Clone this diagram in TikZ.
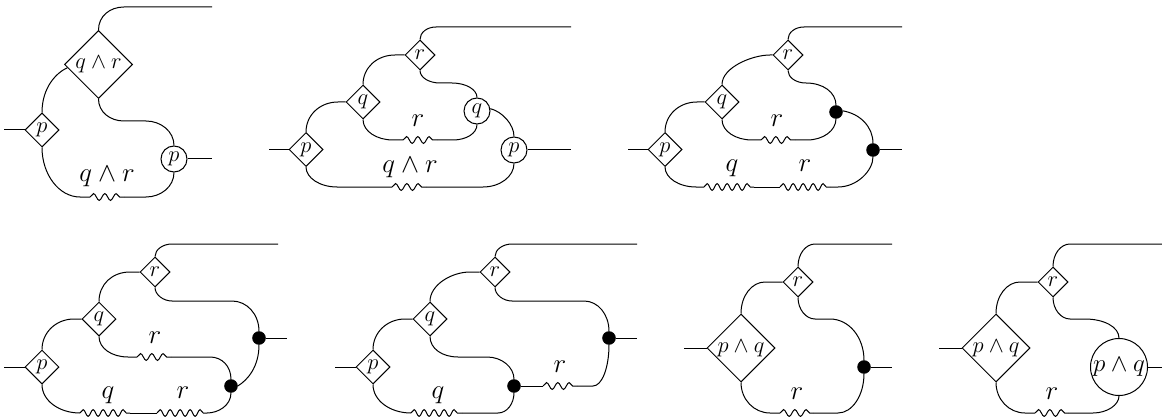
\RequirePackage{fix-cm}
\documentclass[tikz,border=0pt]{standalone}
\usetikzlibrary{shapes.geometric,decorations.pathmorphing}
\tikzset{
  wire/.style={line width=1pt},
  gate/.style={diamond,draw,line width=1pt,inner sep=0pt,minimum width=#1,minimum height=#1,font=\fontsize{22.5}{22.5}\selectfont},
  ring/.style={circle,draw,line width=1pt,inner sep=0pt,minimum size=#1,font=\fontsize{22.5}{22.5}\selectfont},
  blob/.style={circle,fill=black,draw=black,inner sep=0pt,minimum size=12.5pt},
  lab/.style={inner sep=0pt,font=\fontsize{27}{27}\selectfont},
  wavy/.style={line width=1pt,decorate,decoration={snake,segment length=#1,amplitude=3.4pt,pre length=0pt,post length=0pt}},
  wavy/.default=11.3pt
}
\begin{document}
\begin{tikzpicture}[x=1pt,y=-1pt,wire]
\useasboundingbox (0,0) rectangle (1162,417);
\clip (0,0) rectangle (1162,417);

% ---------- diagram 1
\node[gate=68pt] (a1) at (98.5,64.5) {$q\wedge r$};
\node[gate=34pt] (a2) at (42,130) {$p$};
\node[ring=26pt] (a3) at (174,159) {$p$};
\coordinate (a4) at (212,7);
\coordinate (a5) at (4,130);
\coordinate (a6) at (212,159);
\coordinate (a7) at (90,197);
\coordinate (a8) at (124,197);
\node[lab] (a9) at (107,177) {$q\wedge r$};
\draw (a1.north) .. controls +(0,-14) and +(-14,0) .. (124,7) -- (a4);
\draw (a5) -- (a2.west);
\draw (a2.north) .. controls +(0,-25) and +(-11,5) .. (a1.186);
\draw (a1.south) .. controls +(0,13) and +(-14,0) .. (124,121) -- (146,121) .. controls +(15,0) and +(0,-14) .. (a3.north);
\draw (a3.east) -- (a6);
\draw (a2.south) .. controls +(0,27) and +(-21,0) .. (80,197) -- (a7);
\draw (a8) -- (146,197) .. controls +(15,0) and +(0,14) .. (a3.south);
\draw[wavy] (a7) -- (a8);

% ---------- diagram 2
\node[gate=30pt] (b1) at (420,55) {$r$};
\node[gate=34pt] (b2) at (363,102) {$q$};
\node[gate=34pt] (b3) at (306,149.5) {$p$};
\node[ring=26pt] (b4) at (477,111) {$q$};
\node[ring=26pt] (b5) at (514,150) {$p$};
\coordinate (b6) at (571,27);
\coordinate (b7) at (269,149.5);
\coordinate (b8) at (571,150);
\coordinate (b9) at (403,140);
\coordinate (b10) at (437,140);
\coordinate (b11) at (392,187);
\coordinate (b12) at (426,187);
\node[lab] (b13) at (418,121) {$r$};
\node[lab] (b14) at (410,168) {$q\wedge r$};
\draw (b1.north) .. controls +(0,-7) and +(-9,0) .. (436,27) -- (b6);
\draw (b7) -- (b3.west);
\draw (b3.north) .. controls +(0,-17) and +(-18,0) .. (338,102) -- (b2.west);
\draw (b2.north) .. controls +(0,-17) and +(-18,0) .. (395,55) -- (b1.west);
\draw (b1.south) .. controls +(0,7) and +(-11,0) .. (440,83) -- (452,83) .. controls +(14,0) and +(0,-8) .. (b4.north);
\draw (b2.south) .. controls +(0,12) and +(-16,0) .. (393,140) -- (b9);
\draw (b10) -- (453,140) .. controls +(13,0) and +(0,9) .. (b4.south);
\draw (b4.10) .. controls +(12,3) and +(0,-12) .. (b5.north);
\draw (b5.east) -- (b8);
\draw (b3.south) .. controls +(0,11) and +(-17,0) .. (337,187) -- (b11);
\draw (b12) -- (483,187) .. controls +(17,0) and +(0,13) .. (b5.south);
\draw[wavy] (b9) -- (b10);
\draw[wavy] (b11) -- (b12);

% ---------- diagram 3
\node[gate=30pt] (c1) at (788,55) {$r$};
\node[gate=34pt] (c2) at (722,102) {$q$};
\node[gate=34pt] (c3) at (665,149.5) {$p$};
\node[blob] (c4) at (836,112) {};
\node[blob] (c5) at (873,150) {};
\coordinate (c6) at (902,27);
\coordinate (c7) at (628,149.5);
\coordinate (c8) at (902,150);
\coordinate (c9) at (761,140);
\coordinate (c10) at (795,140);
\coordinate (c11) at (704,187);
\coordinate (c12) at (754,187);
\coordinate (c13) at (780,187);
\coordinate (c14) at (830,187);
\node[lab] (c15) at (777,121) {$r$};
\node[lab] (c16) at (732,168) {$q$};
\node[lab] (c17) at (805,166) {$r$};
\draw (c1.north) .. controls +(0,-7) and +(-9,0) .. (804,27) -- (c6);
\draw (c7) -- (c3.west);
\draw (c3.north) .. controls +(0,-17) and +(-18,0) .. (697,102) -- (c2.west);
\draw (c2.north) .. controls +(0,-17) and +(-18,0) .. (770,55) -- (c1.west);
\draw (c1.south) .. controls +(0,7) and +(-10,0) .. (806,83) .. controls +(17,0) and +(0,-13) .. (c4.north);
\draw (c2.south) .. controls +(0,12) and +(-16,0) .. (752,140) -- (c9);
\draw (c10) -- (807,140) .. controls +(16,0) and +(0,12) .. (c4.south);
\draw (c4.10) .. controls +(18,3) and +(0,-16) .. (c5.north);
\draw (c5.east) -- (c8);
\draw (c3.south) .. controls +(0,11) and +(-17,0) .. (696,187) -- (c11);
\draw (c12) -- (c13);
\draw (c14) -- (838,187) .. controls +(19,0) and +(0,14) .. (c5.south);
\draw[wavy=10pt] (c11) -- (c12);
\draw[wavy=10pt] (c13) -- (c14);
\draw[wavy] (c9) -- (c10);

% ---------- diagram 4
\node[gate=30pt] (d1) at (155,272) {$r$};
\node[gate=34pt] (d2) at (99,319) {$q$};
\node[gate=34pt] (d3) at (42,367) {$p$};
\node[blob] (d4) at (259,338) {};
\node[blob] (d5) at (231,386) {};
\coordinate (d6) at (278,244);
\coordinate (d7) at (4,367);
\coordinate (d8) at (287,338);
\coordinate (d9) at (137,357);
\coordinate (d10) at (171,357);
\coordinate (d11) at (80,413);
\coordinate (d12) at (130,413);
\coordinate (d13) at (157,413);
\coordinate (d14) at (207,413);
\node[lab] (d15) at (155,338) {$r$};
\node[lab] (d16) at (108,395) {$q$};
\node[lab] (d17) at (183,393) {$r$};
\draw (d1.north) .. controls +(0,-7) and +(-9,0) .. (172,244) -- (d6);
\draw (d7) -- (d3.west);
\draw (d3.north) .. controls +(0,-17) and +(-18,0) .. (74,319) -- (d2.west);
\draw (d2.north) .. controls +(0,-17) and +(-18,0) .. (130,272) -- (d1.west);
\draw (d1.south) .. controls +(0,7) and +(-9,0) .. (172,301) -- (232,301) .. controls +(15,0) and +(0,-17) .. (d4.north);
\draw (d4.south) .. controls +(0,22) and +(10,-6) .. (d5.east);
\draw (d4.east) -- (d8);
\draw (d2.south) .. controls +(0,12) and +(-16,0) .. (128,357) -- (d9);
\draw (d10) -- (210,357) .. controls +(12,0) and +(0,-13) .. (d5.north);
\draw (d5.south) .. controls +(0,13) and +(11,0) .. (d14);
\draw (d3.south) .. controls +(0,16) and +(-21,0) .. (d11);
\draw (d12) -- (d13);
\draw[wavy=10pt] (d11) -- (d12);
\draw[wavy=10pt] (d13) -- (d14);
\draw[wavy] (d9) -- (d10);

% ---------- diagram 5
\node[gate=30pt] (e1) at (495,272) {$r$};
\node[gate=34pt] (e2) at (430,319) {$q$};
\node[gate=34pt] (e3) at (373,367) {$p$};
\node[blob] (e4) at (609,338) {};
\node[blob] (e5) at (514,386) {};
\coordinate (e6) at (637,244);
\coordinate (e7) at (335,367);
\coordinate (e8) at (637,338);
\coordinate (e9) at (543,386);
\coordinate (e10) at (577,386);
\coordinate (e11) at (411,413);
\coordinate (e12) at (462,413);
\node[lab] (e13) at (560,367) {$r$};
\node[lab] (e14) at (438,395) {$q$};
\draw (e1.north) .. controls +(0,-7) and +(-9,0) .. (512,244) -- (e6);
\draw (e7) -- (e3.west);
\draw (e3.north) .. controls +(0,-17) and +(-18,0) .. (405,319) -- (e2.west);
\draw (e2.north) .. controls +(0,-17) and +(-18,0) .. (470,272) -- (e1.west);
\draw (e1.south) .. controls +(0,7) and +(-9,0) .. (512,301) -- (584,301) .. controls +(14,0) and +(0,-17) .. (e4.north);
\draw (e4.east) -- (e8);
\draw (e2.south) .. controls +(0,12) and +(-16,0) .. (458,357) -- (487,357) .. controls +(15,0) and +(0,-12) .. (e5.north);
\draw (e5.east) -- (e9);
\draw (e10) -- (593,386) .. controls +(9,0) and +(0,23) .. (e4.south);
\draw (e5.south) .. controls +(0,11) and +(9,0) .. (498,413) -- (e12);
\draw (e3.south) .. controls +(0,16) and +(-21,0) .. (e11);
\draw[wavy] (e9) -- (e10);
\draw[wavy=10pt] (e11) -- (e12);

% ---------- diagram 6
\node[gate=30pt] (f1) at (798,282) {$r$};
\node[gate=68pt] (f2) at (741,348) {$p\wedge q$};
\node[blob] (f3) at (864,367) {};
\coordinate (f4) at (892,244);
\coordinate (f5) at (684,348);
\coordinate (f6) at (892,367);
\coordinate (f7) at (780,413);
\coordinate (f8) at (813,413);
\node[lab] (f9) at (797,394) {$r$};
\draw (f1.north) .. controls +(0,-13) and +(-9,0) .. (815,244) -- (f4);
\draw (f5) -- (f2.west);
\draw (f2.north) .. controls +(0,-18) and +(-13,0) .. (765,282) -- (f1.west);
\draw (f1.south) .. controls +(0,12) and +(-9,0) .. (815,319) -- (830,319) .. controls +(19,0) and +(0,-23) .. (f3.north);
\draw (f3.east) -- (f6);
\draw (f2.south) .. controls +(0,17) and +(-16,0) .. (770,413) -- (f7);
\draw (f8) -- (838,413) .. controls +(14,0) and +(0,22) .. (f3.south);
\draw[wavy] (f7) -- (f8);

% ---------- diagram 7
\node[gate=30pt] (g1) at (1053,282) {$r$};
\node[gate=68pt] (g2) at (996,348) {$p\wedge q$};
\node[ring=57pt,font=\fontsize{25}{25}\selectfont] (g3) at (1119,367) {$p\wedge q$};
\coordinate (g4) at (1162,244);
\coordinate (g5) at (939,348);
\coordinate (g6) at (1162,367);
\coordinate (g7) at (1035,413);
\coordinate (g8) at (1068,413);
\node[lab] (g9) at (1052,394) {$r$};
\draw (g1.north) .. controls +(0,-13) and +(-9,0) .. (1070,244) -- (g4);
\draw (g5) -- (g2.west);
\draw (g2.north) .. controls +(0,-18) and +(-13,0) .. (1020,282) -- (g1.west);
\draw (g1.south) .. controls +(0,12) and +(-9,0) .. (1070,319) -- (1085,319) .. controls +(19,0) and +(0,-11) .. (g3.north);
\draw (g3.east) -- (g6);
\draw (g2.south) .. controls +(0,17) and +(-16,0) .. (1025,413) -- (g7);
\draw (g8) -- (1093,413) .. controls +(14,0) and +(0,9) .. (g3.south);
\draw[wavy] (g7) -- (g8);
\end{tikzpicture}
\end{document}
